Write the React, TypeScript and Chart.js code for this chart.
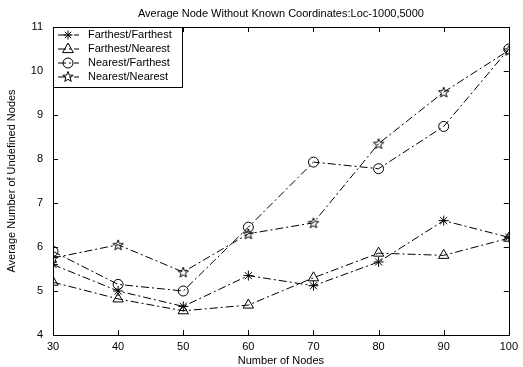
import React, { useEffect, useRef } from 'react';
import { Chart, registerables } from 'chart.js';

Chart.register(...registerables);

const nodeCounts = [30, 40, 50, 60, 70, 80, 90, 100];
const farthestFarthest = [5.6, 5.0, 4.65, 5.35, 5.12, 5.66, 6.6, 6.22];
const farthestNearest = [5.2, 4.82, 4.55, 4.68, 5.3, 5.86, 5.81, 6.2];
const nearestFarthest = [5.9, 5.15, 5.0, 6.45, 7.93, 7.78, 8.74, 10.5];
const nearestNearest = [5.75, 6.05, 5.43, 6.3, 6.55, 8.35, 9.52, 10.47];
const seriesNames = ['Farthest/Farthest', 'Farthest/Nearest', 'Nearest/Farthest', 'Nearest/Nearest'];
const titleText = 'Average Node Without Known Coordinates:Loc-1000,5000';
const xTitle = 'Number of Nodes';
const yTitle = 'Average Number of Undefined Nodes';

const FONT = '"Liberation Sans", Arial, sans-serif';

function drawStarPath(ctx: CanvasRenderingContext2D, cx: number, cy: number, r: number) {
  const inner = r * 0.42;
  ctx.beginPath();
  for (let i = 0; i < 10; i++) {
    const rad = i % 2 === 0 ? r : inner;
    const a = -Math.PI / 2 + (i * Math.PI) / 5;
    const x = cx + rad * Math.cos(a);
    const y = cy + rad * Math.sin(a);
    if (i === 0) ctx.moveTo(x, y);
    else ctx.lineTo(x, y);
  }
  ctx.closePath();
  ctx.stroke();
}

function makeStarImage(r: number) {
  const c = document.createElement('canvas');
  const s = Math.ceil(2 * r + 3);
  c.width = s;
  c.height = s;
  const ctx = c.getContext('2d')!;
  ctx.strokeStyle = '#000';
  ctx.lineWidth = 1;
  drawStarPath(ctx, s / 2, s / 2 + 0.5, r);
  return c;
}

function drawMarker(ctx: CanvasRenderingContext2D, kind: string, x: number, y: number) {
  ctx.save();
  ctx.strokeStyle = '#000';
  ctx.lineWidth = 1;
  ctx.setLineDash([]);
  if (kind === 'star') {
    const r = 4.5;
    ctx.beginPath();
    for (let i = 0; i < 4; i++) {
      const a = (i * Math.PI) / 4;
      ctx.moveTo(x - r * Math.cos(a), y - r * Math.sin(a));
      ctx.lineTo(x + r * Math.cos(a), y + r * Math.sin(a));
    }
    ctx.stroke();
  } else if (kind === 'triangle') {
    const r = 6;
    ctx.beginPath();
    ctx.moveTo(x, y - r);
    ctx.lineTo(x + r * 0.9, y + r * 0.6);
    ctx.lineTo(x - r * 0.9, y + r * 0.6);
    ctx.closePath();
    ctx.stroke();
  } else if (kind === 'circle') {
    ctx.beginPath();
    ctx.arc(x, y, 5, 0, Math.PI * 2);
    ctx.stroke();
  } else {
    drawStarPath(ctx, x, y, 5.5);
  }
  ctx.restore();
}

const DASH = [8, 3, 2, 3];

export default function App() {
  const ref = useRef<HTMLCanvasElement>(null);
  useEffect(() => {
    const canvas = ref.current!;
    const starImg = makeStarImage(5.5);
    const kinds = ['star', 'triangle', 'circle', 'fivestar'];
    const values = [farthestFarthest, farthestNearest, nearestFarthest, nearestNearest];

    const decor = {
      id: 'decor',
      afterDraw(chart: any) {
        const { ctx, chartArea } = chart;
        const { left, right, top, bottom } = chartArea;
        const xs = chart.scales.x;
        const ys = chart.scales.y;
        ctx.save();
        ctx.strokeStyle = '#000';
        ctx.lineWidth = 1;
        ctx.setLineDash([]);
        ctx.strokeRect(Math.round(left) + 0.5, Math.round(top) + 0.5, Math.round(right - left), Math.round(bottom - top));
        ctx.beginPath();
        for (const v of nodeCounts) {
          const px = Math.round(xs.getPixelForValue(v)) + 0.5;
          ctx.moveTo(px, bottom);
          ctx.lineTo(px, bottom - 5);
          ctx.moveTo(px, top);
          ctx.lineTo(px, top + 5);
        }
        for (let v = 4; v <= 11; v++) {
          const py = Math.round(ys.getPixelForValue(v)) + 0.5;
          ctx.moveTo(left, py);
          ctx.lineTo(left + 5, py);
          ctx.moveTo(right, py);
          ctx.lineTo(right - 5, py);
        }
        ctx.stroke();

        // title and axis titles
        ctx.fillStyle = '#000';
        ctx.font = `11px ${FONT}`;
        ctx.textAlign = 'center';
        ctx.textBaseline = 'middle';
        ctx.fillText(titleText, (left + right) / 2, 14);
        ctx.fillText(xTitle, (left + right) / 2, 361);
        ctx.save();
        ctx.translate(12, (top + bottom) / 2);
        ctx.rotate(-Math.PI / 2);
        ctx.fillText(yTitle, 0, 0);
        ctx.restore();

        // legend
        const lx = Math.round(left) + 0.5;
        const ly = Math.round(top) + 0.5;
        const lw = 129;
        const lh = 60;
        ctx.fillStyle = '#fff';
        ctx.fillRect(lx, ly, lw, lh);
        ctx.strokeRect(lx, ly, lw, lh);
        ctx.textAlign = 'left';
        ctx.font = `11px ${FONT}`;
        for (let i = 0; i < 4; i++) {
          const yy = top + 8 + i * 14;
          ctx.save();
          ctx.setLineDash(DASH);
          ctx.beginPath();
          ctx.moveTo(left + 5, yy);
          ctx.lineTo(left + 26, yy);
          ctx.stroke();
          ctx.restore();
          drawMarker(ctx, kinds[i], left + 15, yy);
          ctx.fillStyle = '#000';
          ctx.fillText(seriesNames[i], left + 35, yy);
        }
        ctx.restore();
      },
    };

    const pointStyles: any[] = ['star', 'triangle', 'circle', starImg];
    const radii = [5, 6, 5, 6];

    const chart = new Chart(canvas, {
      type: 'line',
      data: {
        datasets: values.map((vals, i) => ({
          label: seriesNames[i],
          data: nodeCounts.map((x, j) => ({ x, y: vals[j] })),
          borderColor: '#000',
          borderWidth: 1,
          borderDash: DASH,
          pointStyle: pointStyles[i],
          pointRadius: radii[i],
          pointBorderColor: '#000',
          pointBackgroundColor: 'rgba(0,0,0,0)',
          pointBorderWidth: 1,
          fill: false,
          tension: 0,
        })),
      },
      options: {
        responsive: false,
        animation: false,
        layout: { padding: { left: 0, top: 27, right: 9, bottom: 0 } },
        plugins: { legend: { display: false }, title: { display: false }, tooltip: { enabled: false } },
        scales: {
          x: {
            type: 'linear',
            min: 30,
            max: 100,
            ticks: { stepSize: 10, color: '#000', font: { size: 11, family: FONT }, padding: 5, maxRotation: 0 },
            grid: { display: false, drawTicks: false },
            border: { display: false },
            afterFit(scale: any) { scale.height = 32; },
          },
          y: {
            min: 4,
            max: 11,
            ticks: { stepSize: 1, color: '#000', font: { size: 11, family: FONT }, padding: 10 },
            grid: { display: false, drawTicks: false },
            border: { display: false },
            afterFit(scale: any) { scale.width = 53; },
          },
        },
      },
      plugins: [decor],
    });
    return () => chart.destroy();
  }, []);
  return (
    <div style={{ position: 'fixed', left: 0, top: 0, width: 523, height: 367, background: '#fff' }}>
      <canvas ref={ref} width={523} height={367} style={{ width: 523, height: 367 }} />
    </div>
  );
}
